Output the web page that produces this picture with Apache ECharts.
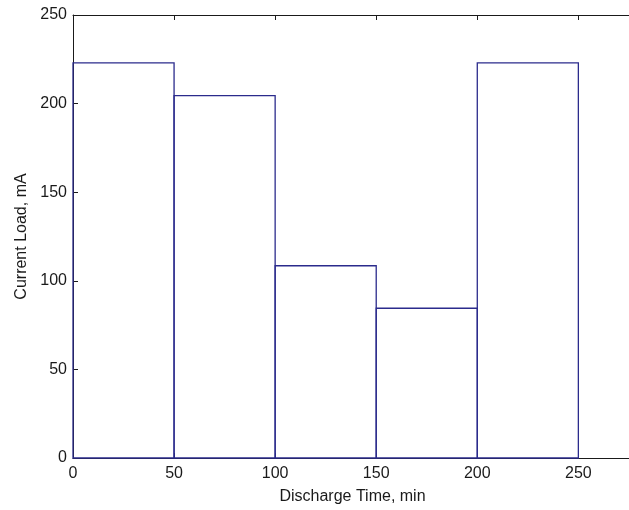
<!DOCTYPE html>
<html>
<head>
<meta charset="utf-8">
<script src="https://cdn.jsdelivr.net/npm/echarts@6/dist/echarts.min.js"></script>
<style>
  html, body { margin: 0; padding: 0; background: #fff; overflow: hidden; }
  /* plot area runs past the right edge of the window */
  #chart { width: 639px; height: 510px; }
</style>
</head>
<body>
<div id="chart"></div>
<script>
// Load profile: each interval [edges[i], edges[i+1]] runs at currents[i] mA
const edges = [0, 50, 100, 150, 200, 250];
const currents = [223, 204.5, 108.5, 84.5, 223];
const xTicks = [0, 50, 100, 150, 200, 250];
const yTicks = [0, 50, 100, 150, 200, 250];

const intervals = currents.map((c, i) => [edges[i], edges[i + 1], c]);

const font = 'Liberation Sans, Arial, sans-serif';
const ink = '#1a1a1a';
const lineColor = '#2b2b8c';

const chart = echarts.init(document.getElementById('chart'), null, { renderer: 'canvas' });

const axisCommon = {
  type: 'value',
  interval: 50,
  splitLine: { show: false },
  axisLine: { show: true, onZero: false, lineStyle: { color: ink, width: 1 } },
  axisTick: { show: true, inside: true, length: 5, lineStyle: { color: ink } }
};

chart.setOption({
  animation: false,
  backgroundColor: '#ffffff',
  grid: { left: 73, top: 15, bottom: 50, right: 0 },
  xAxis: [
    Object.assign({}, axisCommon, {
      min: 0, max: 280, position: 'bottom',
      name: 'Discharge Time, min',
      nameLocation: 'middle',
      nameGap: 31,
      nameTextStyle: { fontFamily: font, fontSize: 16, color: ink, padding: [0, 7, 0, 0] },
      axisLabel: {
        fontFamily: font, fontSize: 16, color: ink, margin: 8,
        customValues: xTicks,
        formatter: v => String(v)
      },
      axisTick: { show: true, inside: true, length: 5, lineStyle: { color: ink }, customValues: xTicks }
    }),
    Object.assign({}, axisCommon, {
      min: 0, max: 280, position: 'top',
      axisLabel: { show: false },
      axisTick: { show: true, inside: true, length: 5, lineStyle: { color: ink }, customValues: xTicks }
    })
  ],
  yAxis: [
    Object.assign({}, axisCommon, {
      min: 0, max: 250, position: 'left',
      name: 'Current Load, mA',
      nameLocation: 'middle',
      nameGap: 42,
      nameTextStyle: { fontFamily: font, fontSize: 16, color: ink },
      axisLabel: {
        fontFamily: font, fontSize: 16, color: ink, margin: 6,
        customValues: yTicks
      },
      axisTick: { show: true, inside: true, length: 5, lineStyle: { color: ink }, customValues: yTicks }
    })
  ],
  series: [{
    type: 'custom',
    xAxisIndex: 0,
    yAxisIndex: 0,
    data: intervals,
    encode: { x: [0, 1], y: 2 },
    renderItem: function (params, api) {
      const topLeft = api.coord([api.value(0), api.value(2)]);
      const bottomRight = api.coord([api.value(1), 0]);
      return {
        type: 'rect',
        shape: {
          x: topLeft[0],
          y: topLeft[1],
          width: bottomRight[0] - topLeft[0],
          height: bottomRight[1] - topLeft[1]
        },
        style: { fill: 'none', stroke: lineColor, lineWidth: 1.3 }
      };
    }
  }]
});
</script>
</body>
</html>
